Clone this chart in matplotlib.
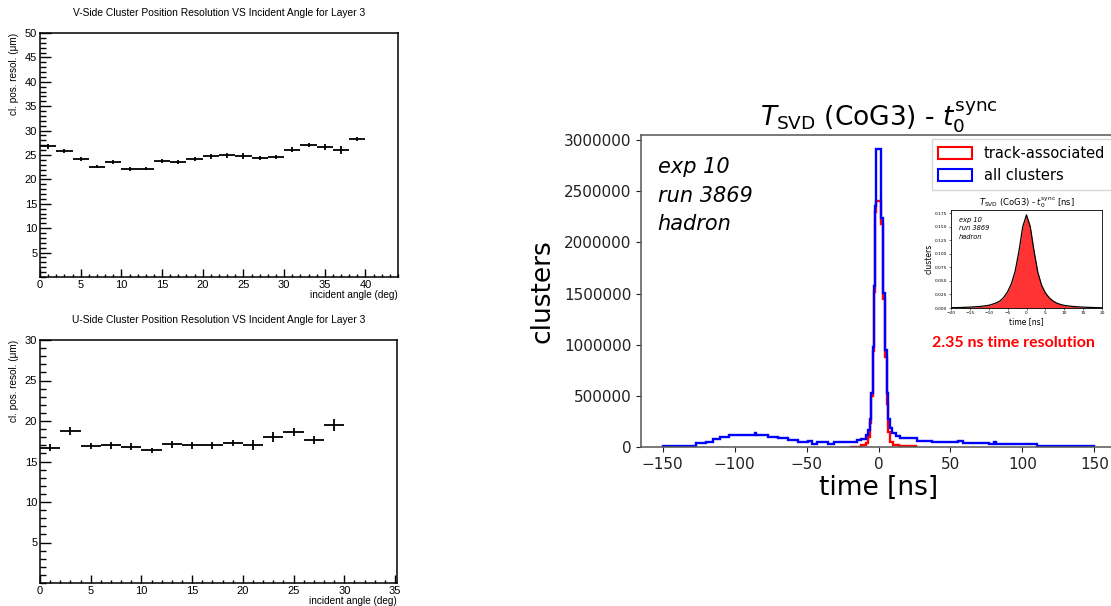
import numpy as np
import matplotlib
matplotlib.use('Agg')
import matplotlib.pyplot as plt
from matplotlib.patches import Patch
from matplotlib.ticker import MultipleLocator

# ---- left: position resolution vs incident angle, layer 3 ----
v_angle = [1, 3, 5, 7, 9, 11, 13, 15, 17, 19, 21, 23, 25, 27, 29, 31, 33, 35, 37, 39]
v_resol = [26.8, 25.9, 24.1, 22.6, 23.5, 22.1, 22.2, 23.7, 23.5, 24.1,
           24.7, 24.9, 24.8, 24.3, 24.5, 26.1, 27.1, 26.7, 26.1, 28.2]
v_err = [0.5, 0.4, 0.4, 0.3, 0.4, 0.4, 0.3, 0.4, 0.4, 0.4,
         0.5, 0.5, 0.6, 0.4, 0.4, 0.5, 0.4, 0.6, 0.8, 0.4]

u_angle = [1, 3, 5, 7, 9, 11, 13, 15, 17, 19, 21, 23, 25, 27, 29]
u_resol = [16.7, 18.8, 16.9, 17.0, 16.85, 16.4, 17.1, 17.0, 17.0, 17.3,
           17.05, 18.0, 18.6, 17.6, 19.5]
u_err = [0.4, 0.5, 0.4, 0.4, 0.4, 0.3, 0.4, 0.4, 0.4, 0.4, 0.6, 0.6, 0.5, 0.5, 0.7]

# ---- right: cluster time histograms (counts in thousands) ----
all_edges = [-150, -127, -120, -115, -110, -104, -86, -85, -77, -70, -63, -56, -49,
             -46, -43, -40, -35, -31, -26, -22, -19, -15, -12, -9, -7.2, -6.0, -5.1,
             -3.9, -3.2, -2.1, -1.4, 1.9, 3.2, 4.4, 5.6, 6.7, 7.9, 9.5, 12, 15, 20,
             27, 32, 37, 42, 49, 55, 59, 77, 80.5, 81.5, 110, 150]
all_counts_k = [10, 35, 52, 75, 95, 118, 140, 118, 100, 88, 65, 50, 62,
                28, 50, 48, 26, 50, 45, 48, 52, 68, 80, 115, 170, 270,
                530, 980, 1570, 2360, 2910, 2240, 1510, 950, 530, 270, 190, 140, 110,
                92, 90, 55, 62, 50, 46, 48, 58, 42, 33, 50, 33, 10]

trk_edges = [-20, -12, -9, -7.2, -6.0, -5.1, -3.9, -3.2, -2.1, -1.4, 1.9, 3.2,
             4.4, 5.6, 6.7, 7.9, 10, 14, 26]
trk_counts_k = [4, 15, 40, 100, 230, 500, 940, 1520, 2300, 2400, 2180, 1450,
                880, 420, 150, 45, 15, 5]

# inset: normalised track-associated distribution and fit
inset_t = [-20, -18, -16, -14, -12, -10, -9, -8, -7, -6, -5, -4, -3, -2, -1, 0,
           1, 2, 3, 4, 5, 6, 7, 8, 9, 10, 12, 14, 16, 18, 20]
inset_density = [0.0005, 0.0008, 0.0013, 0.002, 0.003, 0.005, 0.007, 0.0095, 0.013,
                 0.020, 0.030, 0.045, 0.068, 0.105, 0.150, 0.172, 0.150, 0.105,
                 0.066, 0.042, 0.028, 0.019, 0.013, 0.009, 0.0065, 0.0048, 0.003,
                 0.002, 0.0013, 0.0008, 0.0005]

W, H = 1111, 606
fig = plt.figure(figsize=(W / 100, H / 100), dpi=100)


def px(x0, y0, x1, y1):
    # pixel box -> figure fraction rect
    return [x0 / W, 1 - y1 / H, (x1 - x0) / W, (y1 - y0) / H]


def root_pad(ax, xs, ys, es, xmax, ymax, title):
    ax.errorbar(xs, ys, xerr=1, yerr=es, fmt='none', ecolor='black', elinewidth=1.3)
    ax.set_xlim(0, xmax)
    ax.set_ylim(0, ymax)
    ax.xaxis.set_major_locator(MultipleLocator(5))
    ax.xaxis.set_minor_locator(MultipleLocator(1))
    ax.set_yticks(np.arange(5, ymax + 1, 5))
    ax.yaxis.set_minor_locator(MultipleLocator(1))
    ax.tick_params(which='both', direction='in', top=False, right=False,
                   labelsize=8, width=1.0, pad=2)
    ax.tick_params(axis='x', which='major', length=6)
    ax.tick_params(axis='x', which='minor', length=2.5)
    ax.tick_params(axis='y', which='major', length=8)
    ax.tick_params(axis='y', which='minor', length=4)
    for s in ax.spines.values():
        s.set_linewidth(1.1)
    fam = ['Liberation Sans', 'DejaVu Sans']
    for lab in ax.get_xticklabels() + ax.get_yticklabels():
        lab.set_family(fam)
    ax.set_title(title, fontsize=7.4, family=fam, pad=12)
    ax.set_xlabel('incident angle (deg)', loc='right', fontsize=7.2, family=fam, labelpad=0)
    ax.set_ylabel('cl. pos. resol. (μm)', loc='top', fontsize=7.2, family=fam, labelpad=4)


ax_v = fig.add_axes(px(40, 33, 398, 277))
root_pad(ax_v, v_angle, v_resol, v_err, 44, 50,
         'V-Side Cluster Position Resolution VS Incident Angle for Layer 3')

ax_u = fig.add_axes(px(40, 340, 397, 583))
root_pad(ax_u, u_angle, u_resol, u_err, 35.2, 30,
         'U-Side Cluster Position Resolution VS Incident Angle for Layer 3')

# ---- right main histogram ----
ax = fig.add_axes(px(641, 135, 1116, 447))
ax.stairs(np.array(trk_counts_k) * 1000, trk_edges, color='red', lw=1.7)
ax.stairs(np.array(all_counts_k) * 1000, all_edges, color='blue', lw=1.7)
ax.set_xlim(-165, 165)
ax.set_ylim(0, 3.05e6)
ax.set_xticks([-150, -100, -50, 0, 50, 100, 150])
ax.set_yticks(np.arange(0, 3000001, 500000))
ax.ticklabel_format(style='plain', axis='y')
ax.tick_params(labelsize=11, colors='#222222')
for s in ax.spines.values():
    s.set_color('#555555')
    s.set_linewidth(1.1)
ax.set_xlabel('time [ns]', fontsize=19, labelpad=2)
ax.set_ylabel('clusters', fontsize=19, labelpad=6)
ax.set_title(r'$T_{\rm SVD}$ (CoG3) - $t_0^{\rm sync}$', fontsize=19, pad=6)
ax.text(0.035, 0.93, 'exp 10\nrun 3869\nhadron', transform=ax.transAxes,
        fontsize=15, style='italic', va='top', ha='left', linespacing=1.55)
handles = [Patch(facecolor='none', edgecolor='red', lw=1.5, label='track-associated'),
           Patch(facecolor='none', edgecolor='blue', lw=1.5, label='all clusters')]
leg = ax.legend(handles=handles, loc='upper right', fontsize=10.5, frameon=True,
                borderaxespad=0.3, handlelength=2.3, handleheight=0.9,
                borderpad=0.45, fancybox=False, edgecolor='#cccccc')

# ---- inset ----
ins = fig.add_axes(px(951, 210, 1102, 308))
ins.fill_between(inset_t, inset_density, color='#ff3333', lw=0)
ins.plot(inset_t, inset_density, color='black', lw=0.9)
ins.set_xlim(-20, 20)
ins.set_ylim(0, 0.181)
ins.set_xticks(np.arange(-20, 21, 5))
ins.set_yticks(np.arange(0, 0.176, 0.025))
ins.yaxis.set_major_formatter(plt.FormatStrFormatter('%.3f'))
ins.tick_params(labelsize=3.2, length=1.5, width=0.4, pad=1)
for s in ins.spines.values():
    s.set_linewidth(0.6)
ins.set_xlabel('time [ns]', fontsize=5.5, labelpad=1)
ins.set_ylabel('clusters', fontsize=5.5, labelpad=1)
ins.set_title(r'$T_{\rm SVD}$ (CoG3) - $t_0^{\rm sync}$ [ns]', fontsize=6, pad=2)
ins.text(0.05, 0.93, 'exp 10\nrun 3869\nhadron', transform=ins.transAxes,
         fontsize=4.8, style='italic', va='top', ha='left', linespacing=1.5)

fig.text(1013 / W, 1 - 343 / H, '2.35 ns time resolution', color='red',
         fontsize=11.5, fontweight='bold', family=['Lato', 'DejaVu Sans'],
         ha='center', va='center')

fig.savefig('out.png', dpi=100)
